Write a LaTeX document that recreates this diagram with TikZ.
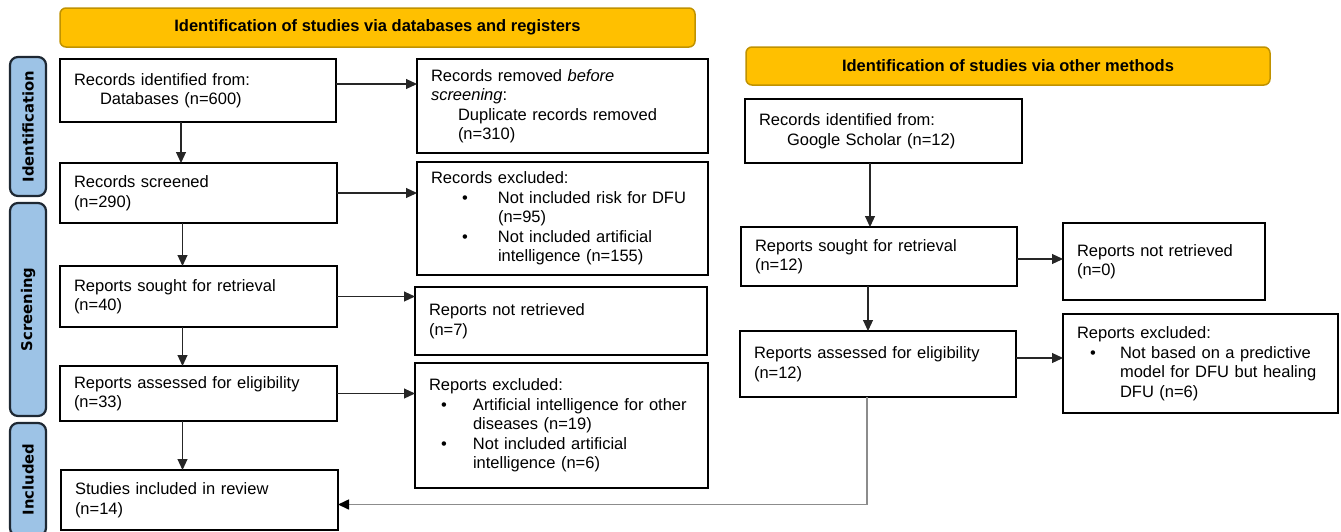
\documentclass[tikz,border=0pt]{standalone}
\usepackage{fontspec}
\setmainfont{Liberation Sans}
\newfontfamily\sidefont{DejaVu Sans}
\usetikzlibrary{arrows.meta}
\definecolor{hdrfill}{HTML}{FFC000}
\definecolor{hdrline}{HTML}{C09200}
\definecolor{sidefill}{HTML}{9DC3E6}
\definecolor{sideline}{HTML}{1E2833}
\definecolor{linkgray}{HTML}{8C8C8C}
\newcommand\myBody{\fontsize{16.5}{19.5}\selectfont}
\newcommand\myHead{\fontsize{16.5}{19.5}\selectfont\bfseries}
\newcommand\mySide{\sidefont\fontsize{14.8}{17}\selectfont\bfseries}
\newcommand\bul[2]{\hspace*{#1}\makebox[#2][l]{•}}
\begin{document}
\begin{tikzpicture}[x=1pt,y=-1pt,
 box/.style={draw=black, line width=1.8pt, anchor=north west, outer sep=0pt, inner xsep=14pt, inner ysep=0pt, align=left, font=\myBody},
 hdr/.style={draw=hdrline, fill=hdrfill, line width=1.5pt, rounded corners=6pt, anchor=north west, outer sep=0pt, inner sep=0pt, font=\myHead},
 sidebar/.style={draw=sideline, fill=sidefill, line width=2.2pt, rounded corners=8pt, rotate=90, inner sep=0pt, font=\mySide},
 arr/.style={draw=black!85, line width=1.1pt, -{Triangle[length=11pt,width=10pt]}},
 grayarr/.style={draw=linkgray, line width=1.6pt, -{Triangle[length=11pt,width=10pt,color=black]}}]
\useasboundingbox (0,0) rectangle (1341,531);

% headers
\node[hdr, minimum width=635pt, minimum height=39pt] (h1) at (60,8) {Identification of studies via databases and registers};
\node[hdr, minimum width=524pt, minimum height=38pt] (h2) at (746,47) {Identification of studies via other methods};

% side bars
\node[sidebar, minimum width=139pt, minimum height=36pt] (s1) at (28,126.5) {Identification};
\node[sidebar, minimum width=213pt, minimum height=36pt] (s2) at (28,309.5) {Screening};
\node[sidebar, minimum width=113pt, minimum height=36pt] (s3) at (28,479.5) {Included};

% left column
\node[box, minimum width=276pt, minimum height=63pt, text width=248pt] (b1) at (60,59) {Records identified from:\\\hspace*{26pt}Databases (n=600)};
\node[box, minimum width=277pt, minimum height=60pt, text width=249pt] (b2) at (60,163) {Records screened\\(n=290)};
\node[box, minimum width=277pt, minimum height=61pt, text width=249pt] (b3) at (60,266) {Reports sought for retrieval\\(n=40)};
\node[box, minimum width=277pt, minimum height=55pt, text width=249pt] (b4) at (60,366) {Reports assessed for eligibility\\(n=33)};
\node[box, minimum width=277pt, minimum height=60pt, text width=249pt] (b5) at (61,470) {Studies included in review\\(n=14)};

% middle column
\node[box, minimum width=291pt, minimum height=94pt, text width=263pt] (r1) at (417,59) {Records removed \textit{before}\\\textit{screening}:\\\hspace*{27pt}Duplicate records removed\\\hspace*{27pt}(n=310)};
\node[box, minimum width=291pt, minimum height=113pt, text width=263pt] (r2) at (417,162) {Records excluded:\\\bul{31pt}{36pt}Not included risk for DFU\\\hspace*{67pt}(n=95)\\\bul{31pt}{36pt}Not included artificial\\\hspace*{67pt}intelligence (n=155)};
\node[box, minimum width=292pt, minimum height=68pt, text width=264pt] (r3) at (415,287) {Reports not retrieved\\(n=7)};
\node[box, minimum width=293pt, minimum height=125pt, text width=265pt] (r4) at (415,363) {Reports excluded:\\\bul{12pt}{32pt}Artificial intelligence for other\\\hspace*{44pt}diseases (n=19)\\\bul{12pt}{32pt}Not included artificial\\\hspace*{44pt}intelligence (n=6)};

% other methods
\node[box, minimum width=277pt, minimum height=64pt, text width=249pt] (o1) at (745,99) {Records identified from:\\\hspace*{28pt}Google Scholar (n=12)};
\node[box, minimum width=276pt, minimum height=59pt, text width=248pt] (o2) at (741,227) {Reports sought for retrieval\\(n=12)};
\node[box, minimum width=202pt, minimum height=77pt, text width=174pt] (o3) at (1063,223) {Reports not retrieved\\(n=0)};
\node[box, minimum width=276pt, minimum height=66pt, text width=248pt] (o4) at (740,331) {Reports assessed for eligibility\\(n=12)};
\node[box, minimum width=275pt, minimum height=99pt, text width=247pt] (o5) at (1063,314) {Reports excluded:\\\bul{13pt}{30pt}Not based on a predictive\\\hspace*{43pt}model for DFU but healing\\\hspace*{43pt}DFU (n=6)};

% connectors, left
\draw[arr] ([yshift=6.5pt]b1.east) coordinate (p1) -- (p1 -| r1.west);
\draw[arr] (b2.east) -- (b2.east -| r2.west);
\draw[arr] (b3.east) -- (b3.east -| r3.west);
\draw[arr] (b4.east) -- (b4.east -| r4.west);
\draw[arr] ([xshift=-17pt]b1.south) coordinate (q1) -- (q1 |- b2.north);
\draw[arr] ([xshift=-16pt]b2.south) coordinate (q2) -- (q2 |- b3.north);
\draw[arr] ([xshift=-16pt]b3.south) coordinate (q3) -- (q3 |- b4.north);
\draw[arr] ([xshift=-16pt]b4.south) coordinate (q4) -- (q4 |- b5.north);

% connectors, right
\draw[arr] ([xshift=-13.5pt]o1.south) coordinate (q5) -- (q5 |- o2.north);
\draw[arr] ([xshift=-11pt]o2.south) coordinate (q6) -- (q6 |- o4.north);
\draw[arr] ([yshift=-2.5pt]o2.east) coordinate (p5) -- (p5 -| o3.west);
\draw[arr] ([yshift=6pt]o4.east) coordinate (p6) -- (p6 -| o5.west);
\draw[grayarr] ([xshift=-11pt]o4.south) |- ([yshift=-4.5pt]b5.east);
\end{tikzpicture}
\end{document}
